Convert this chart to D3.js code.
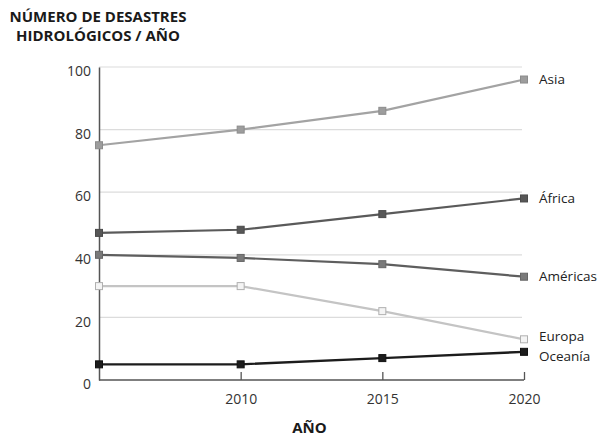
<!DOCTYPE html>
<meta charset="utf-8">
<script src="https://d3js.org/d3.v7.min.js"></script>
<style>
  body { margin: 0; background: #fff; }
  * { font-family: 'Open Sans', 'Noto Sans', sans-serif; }
</style>
<div id="my_dataviz"></div>
<script>
// data
const years = [2005, 2010, 2015, 2020];
const regions = ["Asia", "África", "Américas", "Europa", "Oceanía"];
const asia = [75, 80, 86, 96];
const africa = [47, 48, 53, 58];
const americas = [40, 39, 37, 33];
const europa = [30, 30, 22, 13];
const oceania = [5, 5, 7, 9];
const yTicks = [0, 20, 40, 60, 80, 100];
const xTicks = [2010, 2015, 2020];

const seriesValues = [asia, africa, americas, europa, oceania];
const lineColor = ["#a3a3a3", "#5a5a5a", "#5e5e5e", "#c4c4c4", "#1c1c1c"];
const markFill = ["#9d9d9d", "#575757", "#7a7a7a", "#f4f4f4", "#1c1c1c"];
const markStroke = ["#8c8c8c", "#4a4a4a", "#666", "#b0b0b0", "#111"];
const labelDy = [0, 0, 0, -3, 4];

const margin = {top: 67, right: 76, bottom: 60, left: 99},
    width = 600 - margin.left - margin.right,
    height = 440 - margin.top - margin.bottom;

const svg = d3.select("#my_dataviz")
  .append("svg")
    .attr("width", 600)
    .attr("height", 440)
  .append("g")
    .attr("transform", "translate(" + margin.left + "," + margin.top + ")");

const x = d3.scaleLinear().domain([2005, 2020]).range([0, width]);
const y = d3.scaleLinear().domain([0, 100]).range([height, 0]);

// gridlines
svg.append("g")
  .selectAll("line")
  .data(yTicks.filter(d => d > 0))
  .join("line")
    .attr("x1", 0)
    .attr("x2", width - 2)
    .attr("y1", d => y(d))
    .attr("y2", d => y(d))
    .attr("stroke", "#dcdcdc")
    .attr("stroke-width", 1.2);

// Y axis
const yAxis = svg.append("g")
  .call(d3.axisLeft(y).tickValues(yTicks).tickSize(0).tickPadding(8));
yAxis.select(".domain").attr("stroke", "#555").attr("stroke-width", 1.5);
yAxis.selectAll("text")
  .attr("font-size", 14)
  .attr("fill", "#333")
  .attr("dy", "0.62em");

// X axis
const xAxis = svg.append("g")
  .attr("transform", "translate(0," + height + ")")
  .call(d3.axisTop(x).tickValues(xTicks).tickSize(8).tickFormat(d3.format("d")));
xAxis.select(".domain").attr("stroke", "#555").attr("stroke-width", 1.5)
  .attr("d", "M0,0H" + width);
xAxis.selectAll(".tick line").attr("stroke", "#555").attr("stroke-width", 1.3);
xAxis.selectAll("text")
  .attr("font-size", 14)
  .attr("fill", "#333")
  .attr("y", 24)
  .attr("dy", "0");

// lines
const line = d3.line()
  .x((d, i) => x(years[i]))
  .y(d => y(d));

svg.append("g")
  .selectAll("path")
  .data(seriesValues)
  .join("path")
    .attr("d", d => line(d))
    .attr("fill", "none")
    .attr("stroke", (d, i) => lineColor[i])
    .attr("stroke-width", (d, i) => i === 4 ? 2.4 : 2.2);

// markers
const ms = 7;
seriesValues.forEach(function(vals, s) {
  svg.append("g")
    .selectAll("rect")
    .data(vals)
    .join("rect")
      .attr("x", (d, i) => x(years[i]) - ms / 2)
      .attr("y", d => y(d) - ms / 2)
      .attr("width", ms)
      .attr("height", ms)
      .attr("fill", markFill[s])
      .attr("stroke", markStroke[s])
      .attr("stroke-width", 1);
});

// series labels
svg.append("g")
  .selectAll("text")
  .data(regions)
  .join("text")
    .attr("x", width + 15)
    .attr("y", (d, i) => y(seriesValues[i][3]) + labelDy[i])
    .attr("dy", "0.35em")
    .attr("font-size", 13.5)
    .attr("fill", "#222")
    .text(d => d);

// title
const title = svg.append("text")
  .attr("font-weight", "bold")
  .attr("font-size", 15)
  .attr("fill", "#1a1a1a")
  .attr("text-anchor", "middle");
title.append("tspan").attr("x", -1).attr("y", -45).text("NÚMERO DE DESASTRES");
title.append("tspan").attr("x", -1).attr("y", -26).text("HIDROLÓGICOS / AÑO");

// X axis label
svg.append("text")
  .attr("x", x(2005) + width / 2 - 2)
  .attr("y", height + 53)
  .attr("text-anchor", "middle")
  .attr("font-weight", "bold")
  .attr("font-size", 15)
  .attr("fill", "#1a1a1a")
  .text("AÑO");
</script>
